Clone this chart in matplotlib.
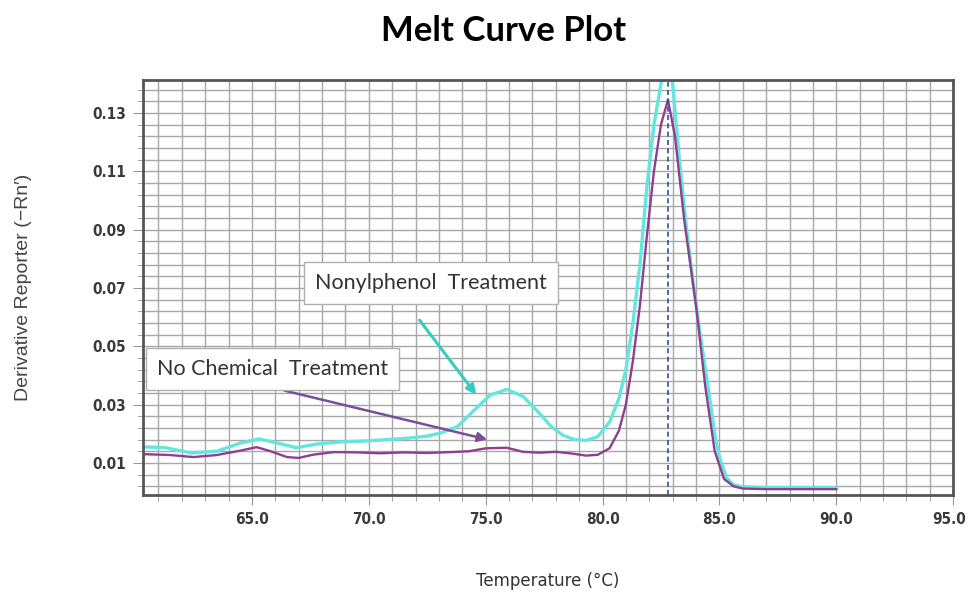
import matplotlib
matplotlib.use("Agg")
import matplotlib.pyplot as plt
import matplotlib.transforms as mtransforms
from matplotlib.ticker import MultipleLocator

# temperature (deg C) and derivative reporter values
temp_ctrl = [60.4, 61.5, 62.5, 63.5, 64.5, 65.2, 65.8, 66.5, 67.0, 67.6, 68.5, 69.5,
             70.5, 71.5, 72.5, 73.5, 74.3, 75.0, 75.9, 76.6, 77.3, 78.0, 78.7, 79.3,
             79.8, 80.3, 80.7, 81.0, 81.3, 81.6, 81.9, 82.2, 82.5, 82.8, 83.1, 83.5,
             84.0, 84.4, 84.8, 85.2, 85.6, 86.0, 87.0, 88.0, 89.0, 90.0]
deriv_ctrl = [0.0130, 0.0127, 0.0120, 0.0127, 0.0142, 0.0154, 0.0140, 0.0120, 0.0117,
              0.0128, 0.0137, 0.0136, 0.0133, 0.0136, 0.0134, 0.0137, 0.0140, 0.0150,
              0.0152, 0.0138, 0.0135, 0.0138, 0.0132, 0.0125, 0.0128, 0.0150, 0.0210,
              0.0300, 0.0450, 0.0640, 0.0880, 0.1100, 0.1260, 0.1345, 0.1220, 0.0930,
              0.0640, 0.0360, 0.0140, 0.0045, 0.0020, 0.0012, 0.0010, 0.0010, 0.0010,
              0.0010]

temp_np = [60.4, 61.3, 62.4, 63.5, 64.5, 65.3, 66.0, 66.9, 67.8, 68.8, 69.8, 70.8,
           71.7, 72.5, 73.1, 73.8, 74.5, 75.2, 75.9, 76.6, 77.3, 77.8, 78.3, 78.8,
           79.3, 79.8, 80.3, 80.7, 81.0, 81.3, 81.6, 81.9, 82.2, 82.5, 82.8, 83.0,
           83.3, 83.6, 83.9, 84.2, 84.5, 84.8, 85.0, 85.3, 85.6, 86.0, 87.0, 88.0,
           89.0, 90.0]
deriv_np = [0.0155, 0.0152, 0.0134, 0.0140, 0.0168, 0.0182, 0.0170, 0.0152, 0.0165,
            0.0172, 0.0175, 0.0180, 0.0185, 0.0192, 0.0203, 0.0225, 0.0280, 0.0333,
            0.0352, 0.0328, 0.0270, 0.0225, 0.0195, 0.0180, 0.0177, 0.0190, 0.0240,
            0.0320, 0.0420, 0.0580, 0.0780, 0.1050, 0.1260, 0.1400, 0.1470, 0.1400,
            0.1130, 0.0900, 0.0700, 0.0530, 0.0370, 0.0200, 0.0120, 0.0050, 0.0025,
            0.0018, 0.0015, 0.0015, 0.0015, 0.0015]

peak_temp = 82.8
x_ticks = [65.0, 70.0, 75.0, 80.0, 85.0, 90.0, 95.0]
y_ticks = [0.01, 0.03, 0.05, 0.07, 0.09, 0.11, 0.13]

fig = plt.figure(figsize=(9.69, 5.94), dpi=100)
ax = fig.add_axes([0.1476, 0.1667, 0.836, 0.6986])

# grid: one line per degree, five per 0.02 step
ax.xaxis.set_minor_locator(MultipleLocator(1))
ax.set_yticks([-0.002 + 0.004 * i for i in range(37)], minor=True)
ax.grid(which='both', color='#a8a8a8', linewidth=1.0)
ax.set_axisbelow(True)

ax.plot(temp_np, deriv_np, color='#62e6df', linewidth=2.4)
ax.plot(temp_ctrl, deriv_ctrl, color='#8e3f8e', linewidth=1.7)
ax.axvline(peak_temp, color='#2f4fa8', linestyle=(0, (3, 2)), linewidth=1.2)

ax.set_xlim(60.34, 95.0)
ax.set_ylim(-0.001, 0.1413)
ax.set_xticks(x_ticks)
ax.set_xticklabels([f"{t:.1f}" for t in x_ticks])
ax.set_yticks(y_ticks)
ax.set_yticklabels([f"{t:.2f}" for t in y_ticks])
ax.tick_params(which='major', length=7, color='#999999', labelsize=11,
               labelcolor='#3a3a3a', pad=5)
ax.tick_params(which='minor', length=4, color='#999999')
for lab in ax.get_xticklabels() + ax.get_yticklabels():
    lab.set_fontstretch('condensed')
    lab.set_fontweight('bold')
# last x label sits a little left of its tick, as in the original
last = ax.get_xticklabels()[-1]
last.set_transform(last.get_transform() +
                   mtransforms.ScaledTranslation(-4 / 100, 0, fig.dpi_scale_trans))

for sp in ax.spines.values():
    sp.set_color('#555555')
    sp.set_linewidth(2)

ax.set_xlabel('Temperature (°C)', fontsize=12, color='#333333')
ax.xaxis.set_label_coords(0.5, -0.186)
ax.set_ylabel("Derivative Reporter (\u2212Rn\u2032)", fontsize=14, color='#444444',
              family=['Liberation Sans', 'DejaVu Sans'])
ax.yaxis.set_label_coords(-0.137, 0.5)
fig.text(0.52, 0.948, 'Melt Curve Plot', ha='center', va='center', fontsize=25,
         fontweight='bold', family=['Lato', 'DejaVu Sans'])

box = dict(boxstyle='square,pad=0.5', facecolor='white', edgecolor='#b0b0b0', linewidth=1)
ax.annotate('', xy=(74.67, 0.0326), xytext=(72.10, 0.0597),
            arrowprops=dict(arrowstyle='-|>', color='#3cc9c4', lw=2.2, mutation_scale=14))
ax.annotate('', xy=(75.18, 0.0178), xytext=(66.28, 0.0350),
            arrowprops=dict(arrowstyle='-|>', color='#7a4f9a', lw=1.8, mutation_scale=14))
ax.text(67.7, 0.0717, 'Nonylphenol  Treatment', fontsize=15.5, color='#333333',
        va='center', ha='left', bbox=box, family=['Lato', 'DejaVu Sans'])
ax.text(60.93, 0.0422, 'No Chemical  Treatment', fontsize=15.5, color='#333333',
        va='center', ha='left', bbox=box, family=['Lato', 'DejaVu Sans'])

fig.savefig('out.png', dpi=100)
